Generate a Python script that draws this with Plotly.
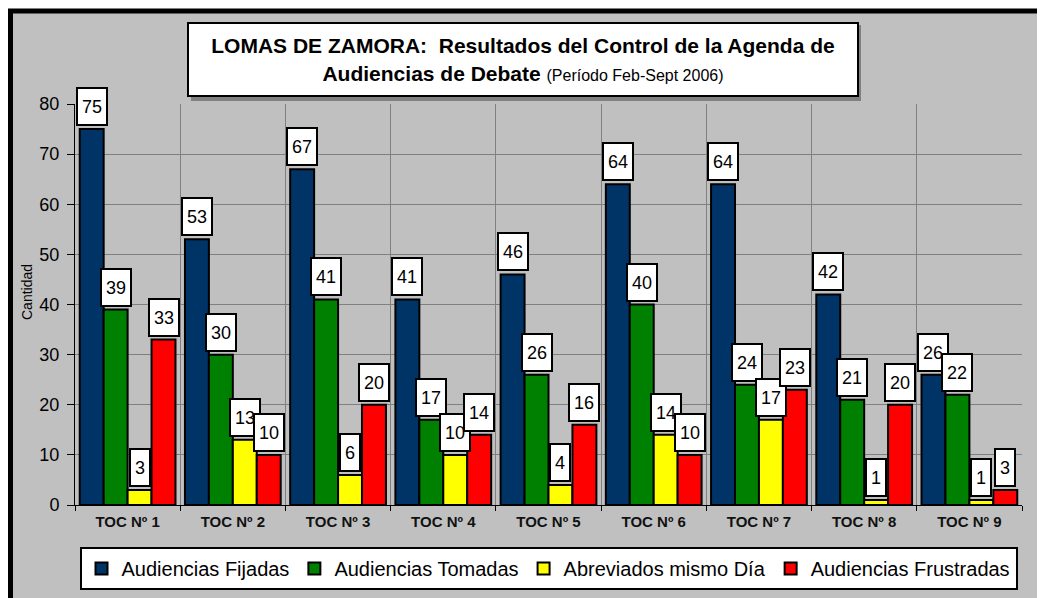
import plotly.graph_objects as go

# datos
categorias = ["TOC Nº 1", "TOC Nº 2", "TOC Nº 3", "TOC Nº 4", "TOC Nº 5",
              "TOC Nº 6", "TOC Nº 7", "TOC Nº 8", "TOC Nº 9"]
fijadas = [75, 53, 67, 41, 46, 64, 64, 42, 26]
tomadas = [39, 30, 41, 17, 26, 40, 24, 21, 22]
abreviados = [3, 13, 6, 10, 4, 14, 17, 1, 1]
frustradas = [33, 10, 20, 14, 16, 10, 23, 20, 3]

series = [
    ("Audiencias Fijadas", fijadas, "#003366"),
    ("Audiencias Tomadas", tomadas, "#008000"),
    ("Abreviados mismo Día", abreviados, "#FFFF00"),
    ("Audiencias Frustradas", frustradas, "#FF0000"),
]

FONT = "Arial, Liberation Sans, sans-serif"
OFF = 8  # margen del body de la pagina
W, H = 1045 - OFF, 598 - OFF
ML, MT = 75 - OFF, 104 - OFF          # esquina sup. izq. del area de trazado (pantalla 75,104)
MR, MB = W - (1022 - OFF), H - (505 - OFF)
BARGAP = 0.09
plot_w = W - ML - MR
plot_h = H - MT - MB
bar_px = plot_w / len(categorias) * (1 - BARGAP) / len(series)


def px_x(px):
    return (px - OFF - ML) / plot_w


def px_y(py):
    return (H - MB - (py - OFF)) / plot_h


fig = go.Figure()
for nombre, valores, color in series:
    fig.add_trace(go.Bar(x=categorias, y=valores, name=nombre,
                         marker=dict(color=color, line=dict(color="black", width=2))))

# etiquetas de datos en cajas blancas
anots = []
for i, (nombre, valores, color) in enumerate(series):
    for cat, v in zip(categorias, valores):
        anots.append(dict(x=cat, y=v, text=str(v), showarrow=False,
                          xanchor="center", yanchor="bottom",
                          xshift=(i - 1.5) * bar_px, yshift=3,
                          bgcolor="white", bordercolor="black", borderwidth=2,
                          borderpad=4, height=27,
                          font=dict(family=FONT, size=18, color="black")))

# titulo en recuadro
titulo = ("<b>LOMAS DE ZAMORA:  Resultados del Control de la Agenda de</b><br>"
          "<b>Audiencias de Debate</b> <span style='font-size:16px'>(Período Feb-Sept 2006)</span>")
anots.append(dict(xref="paper", yref="paper", x=px_x(523), y=px_y(60),
                  xanchor="center", yanchor="middle", showarrow=False,
                  text=titulo,
                  font=dict(family=FONT, size=21, color="black"),
                  bgcolor="white", bordercolor="black", borderwidth=2,
                  borderpad=4, width=660, height=63))

anots.append(dict(xref="paper", yref="paper", x=px_x(27), y=px_y(292),
                  xanchor="center", yanchor="middle",
                  text="Cantidad", textangle=-90, showarrow=False,
                  font=dict(family=FONT, size=14, color="black")))

shapes = [
    # marco gris exterior
    dict(type="rect", xref="paper", yref="paper",
         x0=px_x(10.5), x1=px_x(1042), y0=px_y(640), y1=px_y(11),
         fillcolor="#C0C0C0", line=dict(color="black", width=5), layer="below"),
    # sombra del titulo
    dict(type="rect", xref="paper", yref="paper",
         x0=px_x(191), x1=px_x(861), y0=px_y(101), y1=px_y(25),
         fillcolor="#808080", line=dict(width=0), layer="above"),
]

fig.update_layout(
    width=W, height=H,
    margin=dict(l=ML, r=MR, t=MT, b=MB, autoexpand=False),
    paper_bgcolor="white", plot_bgcolor="white",
    barmode="group", bargap=BARGAP, bargroupgap=0,
    font=dict(family=FONT, color="black"),
    annotations=anots,
    shapes=shapes,
    legend=dict(orientation="h", x=0.5, xanchor="center", y=px_y(547), yanchor="top",
                bgcolor="white", bordercolor="black", borderwidth=2,
                font=dict(family=FONT, size=20, color="black"),
                itemwidth=30, tracegroupgap=0),
    xaxis=dict(type="category", tickson="boundaries", showgrid=True,
               gridcolor="#808080", gridwidth=1, showline=True, linecolor="black",
               linewidth=1, ticks="outside", ticklen=5, tickcolor="black",
               ticklabelstandoff=3,
               tickfont=dict(family=FONT, size=15, color="#111111", weight="bold")),
    yaxis=dict(range=[0, 80], dtick=10, showgrid=True, gridcolor="#808080",
               gridwidth=1, showline=True, linecolor="black", linewidth=1,
               ticks="outside", ticklen=7, tickcolor="black", zeroline=False,
               ticklabelstandoff=4,
               tickfont=dict(family=FONT, size=18, color="black")),
)

fig.write_html("out.html")
